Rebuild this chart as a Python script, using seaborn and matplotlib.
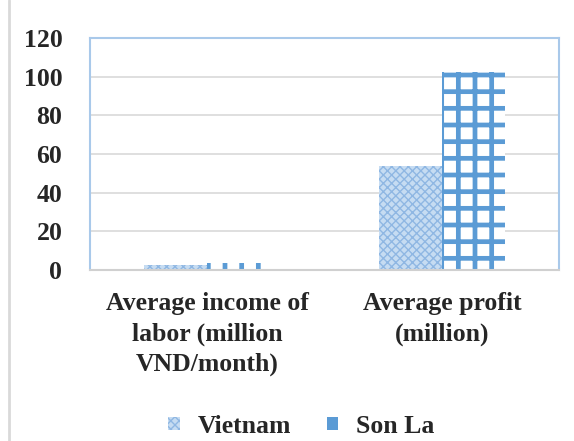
import matplotlib
matplotlib.use("Agg")
import matplotlib.pyplot as plt
import seaborn as sns
import pandas as pd
from matplotlib.patches import Patch

# -- Дані
categories = ["Average income of\nlabor (million\nVND/month)", "Average profit\n(million)"]
regions = ["Vietnam", "Son La"]
vietnam_vals = [2.7, 53.6]
sonla_vals = [3.6, 102.2]

df = pd.DataFrame({
    "category": categories * 2,
    "region": [regions[0]] * 2 + [regions[1]] * 2,
    "value": vietnam_vals + sonla_vals,
})

sns.set_theme(style="white")
plt.rcParams['font.family'] = ['Liberation Serif', 'DejaVu Serif']
plt.rcParams['font.weight'] = 'bold'

BLUE = "#5b9bd5"
LIGHT = "#c6dcf2"
MID = "#8fb7e3"
FS = 18.5


def style_vn(p):
    p.set_facecolor(LIGHT)
    p.set_edgecolor(MID)
    p.set_hatch("xxxx")
    p.set_linewidth(0)
    p.set_hatch_linewidth(1.0)


def style_sl(p):
    p.set_facecolor("white")
    p.set_edgecolor(BLUE)
    p.set_hatch("+")
    p.set_linewidth(0)
    p.set_hatch_linewidth(3.4)


fig = plt.figure(figsize=(5.74, 4.41), dpi=100)
ax = fig.add_axes([0.157, 0.388, 0.817, 0.526])

sns.barplot(data=df, x="category", y="value", hue="region", hue_order=regions,
            width=0.54, ax=ax, legend=False, saturation=1)

# Vietnam - дрібна сітка, Son La - "шахівниця"
for i, patch in enumerate(ax.patches):
    if i < 2:
        style_vn(patch)
    else:
        style_sl(patch)

ax.set_ylim(0, 120)
ax.set_yticks(range(0, 121, 20))
ax.yaxis.grid(True, color="#d9d9d9", linewidth=1.2)
ax.set_axisbelow(True)
ax.set_xlabel("")
ax.set_ylabel("")
ax.tick_params(axis="y", length=0, labelsize=FS, pad=20)
ax.tick_params(axis="x", length=0, labelsize=FS, pad=16)
for lbl in ax.get_xticklabels():
    lbl.set_fontweight("bold")
    lbl.set_linespacing(1.4)
for lbl in ax.get_yticklabels():
    lbl.set_fontweight("bold")

for side in ["top", "left", "right"]:
    ax.spines[side].set_color("#a9c9ea")
    ax.spines[side].set_linewidth(1.5)
ax.spines["bottom"].set_color("#d0d0d0")
ax.spines["bottom"].set_linewidth(1.5)

h_vn = Patch(label="Vietnam")
style_vn(h_vn)
h_sl = Patch(facecolor=BLUE, linewidth=0, label="Son La")
fig.legend(handles=[h_vn, h_sl], loc="lower center", ncol=2, frameon=False,
           bbox_to_anchor=(0.525, -0.045), handlelength=0.45, handleheight=0.45,
           columnspacing=1.4, handletextpad=0.7, prop={"size": FS, "weight": "bold"})

# рамка зліва
fig.add_artist(plt.Line2D([0.015, 0.015], [0, 1], color="#d9d9d9", linewidth=2,
                          transform=fig.transFigure))

fig.savefig("out.png", dpi=100)
